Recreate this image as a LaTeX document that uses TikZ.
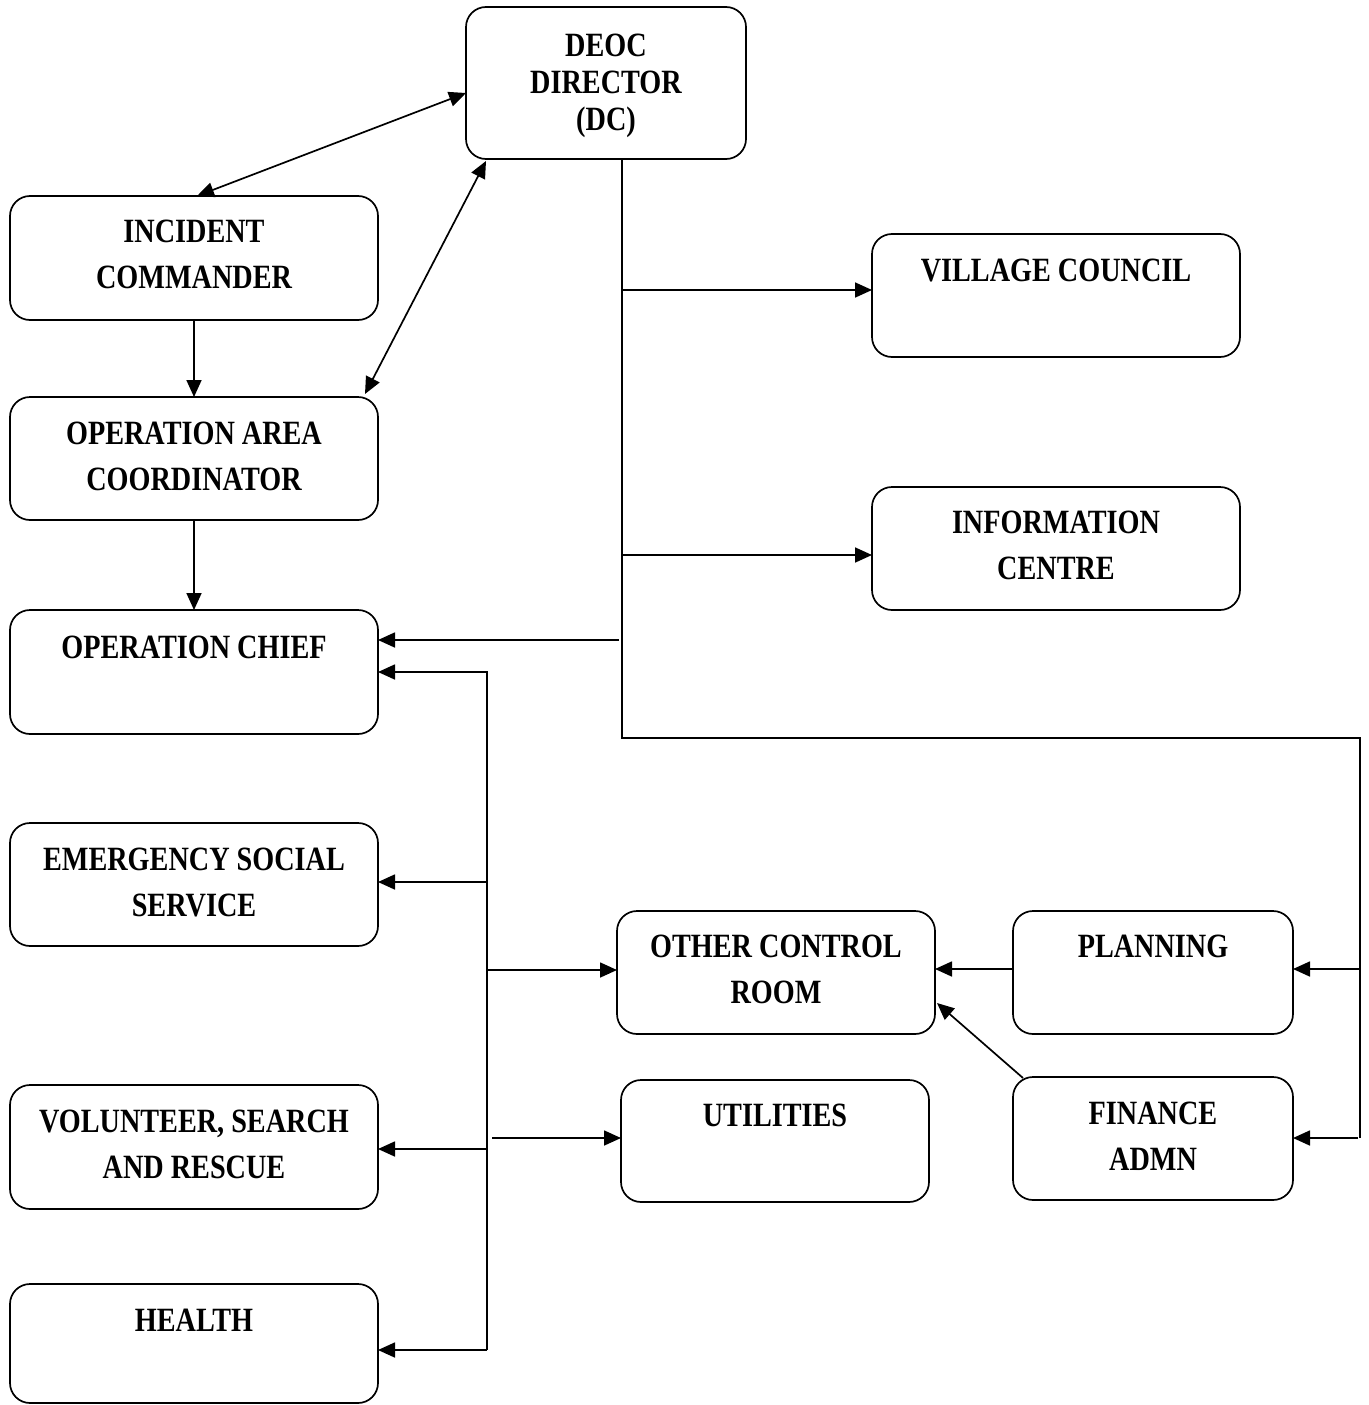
\documentclass[tikz,border=0pt]{standalone}
\usepackage{fontspec}
\setmainfont[FakeStretch=0.83]{Liberation Serif}
\usetikzlibrary{arrows.meta,calc}
\begin{document}
\begin{tikzpicture}[x=1pt,y=-1pt,
  box/.style={draw, line width=1.7pt, rounded corners=20pt, inner sep=0pt, outer sep=0pt},
  txt/.style={anchor=north, inner sep=0pt, align=center, font=\fontsize{34}{46}\selectfont\bfseries},
  arr/.style={line width=1.7pt, -{Triangle[length=17pt,width=15pt]}},
  darr/.style={line width=1.7pt, {Triangle[length=17pt,width=15pt]}-{Triangle[length=17pt,width=15pt]}},
  ln/.style={line width=1.7pt}]
\useasboundingbox (0,0) rectangle (1368,1405);

% boxes
\node[box, minimum width=280pt, minimum height=152pt] (dc) at (606,83) {};
\node[box, minimum width=368pt, minimum height=124pt] (ic) at (194,258) {};
\node[box, minimum width=368pt, minimum height=123pt] (oac) at (194,458.5) {};
\node[box, minimum width=368pt, minimum height=124pt] (och) at (194,672) {};
\node[box, minimum width=368pt, minimum height=123pt] (ess) at (194,884.5) {};
\node[box, minimum width=368pt, minimum height=124pt] (vsr) at (194,1147) {};
\node[box, minimum width=368pt, minimum height=119pt] (hl) at (194,1343.5) {};
\node[box, minimum width=368pt, minimum height=123pt] (vc) at (1056,295.5) {};
\node[box, minimum width=368pt, minimum height=123pt] (inf) at (1056,548.5) {};
\node[box, minimum width=318pt, minimum height=123pt] (ocr) at (776,972.5) {};
\node[box, minimum width=308pt, minimum height=122pt] (ut) at (775,1141) {};
\node[box, minimum width=280pt, minimum height=123pt] (pl) at (1153,972.5) {};
\node[box, minimum width=280pt, minimum height=123pt] (fa) at (1153,1138.5) {};

% texts
\node[txt, font=\fontsize{34}{37}\selectfont\bfseries] (dct) at ([yshift=-27pt]dc.north) {DEOC\\DIRECTOR\\(DC)};
\node[txt] (ict) at ([yshift=-24pt]ic.north) {INCIDENT\\COMMANDER};
\node[txt] (oact) at ([yshift=-25pt]oac.north) {OPERATION AREA\\COORDINATOR};
\node[txt] (ocht) at ([yshift=-26pt]och.north) {OPERATION CHIEF};
\node[txt] (esst) at ([yshift=-25pt]ess.north) {EMERGENCY SOCIAL\\SERVICE};
\node[txt] (vsrt) at ([yshift=-25pt]vsr.north) {VOLUNTEER, SEARCH\\AND RESCUE};
\node[txt] (hlt) at ([yshift=-25pt]hl.north) {HEALTH};
\node[txt] (vct) at ([yshift=-25pt]vc.north) {VILLAGE COUNCIL};
\node[txt] (inft) at ([yshift=-24pt]inf.north) {INFORMATION\\CENTRE};
\node[txt] (ocrt) at ([yshift=-24pt]ocr.north) {OTHER CONTROL\\ROOM};
\node[txt] (utt) at ([yshift=-24pt]ut.north) {UTILITIES};
\node[txt] (plt) at ([yshift=-24pt]pl.north) {PLANNING};
\node[txt] (fat) at ([yshift=-25pt]fa.north) {FINANCE\\ADMN};

% upper connectors
\draw[darr] ($(dc.north west)+(0,86)$) -- ($(ic.north)+(3,0)$);
\draw[darr] ($(dc.south west)+(20,2)$) -- ($(oac.north east)+(-13,-3)$);
\draw[arr] (ic.south) -- (oac.north);
\draw[arr] (oac.south) -- (och.north);

% DC bus
\coordinate (jA) at (622,738);
\coordinate (jB) at (1360,738);
\coordinate (jC) at (1360,1138);
\coordinate (bvc) at (622,290);
\coordinate (binf) at (622,555);
\coordinate (boch) at (619,640);
\coordinate (bpl) at (1360,969);
\coordinate (bfa) at (1358,1138);
\draw[ln] ($(dc.south)+(16,0)$) -- (jA) -- (jB) -- (jC);
\draw[arr] (bvc) -- (vc.west |- bvc);
\draw[arr] (binf) -- (inf.west |- binf);
\draw[arr] (boch) -- (och.east |- boch);
\draw[arr] (bpl) -- (pl.east |- bpl);
\draw[arr] (bfa) -- (fa.east |- bfa);

% operation chief bus
\coordinate (k0) at (487,672);
\coordinate (k1) at (487,1350);
\coordinate (kess) at (487,882);
\coordinate (kocr) at (487,970);
\coordinate (kvsr) at (487,1149);
\coordinate (kut) at (492,1138);
\draw[arr] (k1) -- (k0) -- (och.east |- k0);
\draw[arr] (k1) -- (hl.east |- k1);
\draw[arr] (kess) -- (ess.east |- kess);
\draw[arr] (kocr) -- (ocr.west |- kocr);
\draw[arr] (kvsr) -- (vsr.east |- kvsr);
\draw[arr] (kut) -- (ut.west |- kut);

% to other control room
\draw[arr] ($(pl.west)+(0,-3.5)$) -- ($(ocr.east)+(0,-3.5)$);
\draw[arr] ($(fa.north west)+(10,1)$) -- ($(ocr.east)+(2,30.5)$);
\end{tikzpicture}
\end{document}
